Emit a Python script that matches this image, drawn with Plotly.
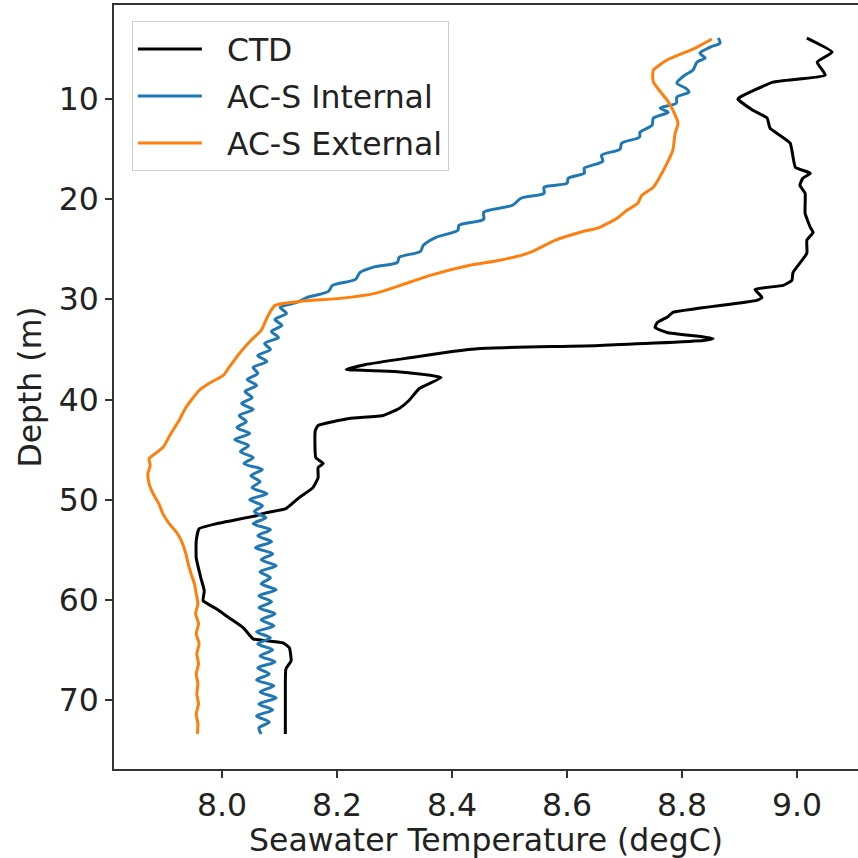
import plotly.graph_objects as go

# ---- CTD (black) ----
ctd_depth = [3.9, 5.3, 6.3, 7.6, 8.3, 9.8, 10.0, 11.1, 11.9, 12.9, 14.4, 16.8, 17.4, 17.9, 18.6,
             19.4, 21.4, 22.8, 23.3, 24.1, 25.4, 27.3, 28.1, 28.6, 29.0, 29.8, 30.1, 31.3, 31.7,
             32.3, 32.8, 33.3, 33.9, 34.1, 34.6, 34.9, 35.2, 35.8, 36.5, 37.0, 37.2, 37.8, 38.9,
             40.1, 40.9, 41.6, 41.9, 42.6, 43.1, 45.8, 46.4, 46.8, 47.8, 48.8, 49.8, 50.9, 51.3,
             51.6, 52.4, 52.9, 54.1, 55.8, 57.8, 59.1, 60.1, 60.9, 61.8, 62.8, 63.9, 64.3, 64.8,
             66.1, 66.9, 68.1, 73.4]
ctd_temp = [9.017, 9.061, 9.035, 9.049, 8.958, 8.901, 8.897, 8.923, 8.948, 8.953, 8.988, 8.997,
            9.023, 9.010, 9.005, 9.014, 9.014, 9.023, 9.028, 9.017, 9.017, 8.993, 8.991, 8.976,
            8.927, 8.939, 8.930, 8.784, 8.776, 8.757, 8.753, 8.774, 8.854, 8.837, 8.657, 8.449,
            8.400, 8.330, 8.250, 8.216, 8.300, 8.381, 8.343, 8.325, 8.308, 8.280, 8.221, 8.167,
            8.162, 8.163, 8.176, 8.167, 8.167, 8.158, 8.134, 8.111, 8.077, 8.059, 7.990, 7.960,
            7.955, 7.955, 7.963, 7.969, 7.967, 7.990, 8.012, 8.037, 8.054, 8.106, 8.117, 8.120,
            8.111, 8.110, 8.110]

# ---- AC-S Internal (blue) ----
int_depth = [3.9, 4.4, 4.8, 5.4, 5.9, 6.3, 7.1, 7.6, 8.4, 8.9, 9.3, 9.8, 10.4, 10.9, 11.3, 11.9,
             12.6, 13.3, 13.8, 14.4, 15.0, 15.6, 16.2, 16.9, 17.4, 17.9, 18.4, 18.8, 19.4, 19.9,
             20.6, 21.3, 22.0, 22.6, 23.1, 23.8, 24.6, 25.2, 25.8, 26.3, 26.8, 27.3, 28.0, 28.6,
             29.2, 29.8, 30.3,
             30.8, 31.4, 32.0, 32.6, 33.2, 33.8, 34.4, 35.0, 35.6, 36.2, 36.8, 37.4, 38.0, 38.6,
             39.2, 39.8, 40.4, 41.0, 41.6, 42.2, 42.8, 43.4, 44.0, 44.6, 45.2, 45.8, 46.4, 47.0,
             47.6, 48.2, 48.8, 49.4, 50.0, 50.6, 51.2, 51.8, 52.4, 53.0, 53.6, 54.2, 54.8, 55.4,
             56.0, 56.6, 57.2, 57.8, 58.4, 59.0, 59.6, 60.2, 60.8, 61.4, 62.0, 62.6, 63.2, 63.8,
             64.4, 65.0, 65.6, 66.2, 66.8, 67.4, 68.0, 68.6, 69.2, 69.8, 70.4, 71.0, 71.6, 72.2,
             72.8, 73.4]
int_temp = [8.863, 8.866, 8.849, 8.831, 8.840, 8.826, 8.819, 8.805, 8.791, 8.806, 8.812, 8.791,
            8.790, 8.762, 8.776, 8.750, 8.748, 8.727, 8.726, 8.695, 8.692, 8.660, 8.662, 8.630,
            8.630, 8.602, 8.600, 8.560, 8.560, 8.520, 8.505, 8.455, 8.455, 8.412, 8.410, 8.372,
            8.350, 8.345, 8.308, 8.305, 8.262, 8.240, 8.232, 8.192, 8.185, 8.148, 8.130,
            8.101, 8.112, 8.092, 8.104, 8.086, 8.098, 8.074, 8.084, 8.062, 8.078, 8.054, 8.062,
            8.044, 8.060, 8.040, 8.052, 8.034, 8.054, 8.030, 8.042, 8.026, 8.048, 8.022, 8.046,
            8.032, 8.054, 8.038, 8.070, 8.050, 8.066, 8.052, 8.078, 8.048, 8.070, 8.056, 8.076,
            8.054, 8.084, 8.062, 8.086, 8.058, 8.088, 8.068, 8.094, 8.066, 8.084, 8.068, 8.094,
            8.064, 8.086, 8.064, 8.092, 8.068, 8.090, 8.060, 8.084, 8.062, 8.088, 8.066, 8.092,
            8.062, 8.082, 8.060, 8.090, 8.066, 8.094, 8.064, 8.088, 8.060, 8.082, 8.064, 8.068]

# ---- AC-S External (orange) ----
ext_depth = [4.0, 4.9, 6.1, 7.1, 8.3, 10.1, 11.1, 12.4, 13.4, 15.1, 16.4, 18.1, 18.8, 19.6, 20.4,
             21.1, 21.9, 22.8, 23.3, 24.1, 25.3, 26.1, 26.6, 27.6, 28.6, 29.4, 29.9, 30.2, 30.6,
             31.6, 33.1, 34.1, 35.4, 36.8, 37.6, 38.4, 39.1, 40.8, 42.1, 43.4, 44.8, 45.9, 46.6,
             47.4, 48.4, 49.4, 50.4, 51.4, 52.4, 53.2, 54.1, 55.4, 56.4, 57.4, 58.4, 59.4, 60.4,
             61.4, 62.4, 63.4, 64.4, 65.4, 66.4, 67.4, 68.4, 69.4, 70.4, 71.4, 72.4, 73.4]
ext_temp = [8.852, 8.823, 8.774, 8.750, 8.750, 8.774, 8.784, 8.793, 8.788, 8.784, 8.774, 8.758,
            8.750, 8.730, 8.723, 8.704, 8.687, 8.657, 8.623, 8.579, 8.536, 8.483, 8.431, 8.362,
            8.310, 8.266, 8.205, 8.136, 8.092, 8.080, 8.068, 8.050, 8.030, 8.012, 8.002, 7.977,
            7.960, 7.937, 7.925, 7.911, 7.897, 7.873, 7.875, 7.871, 7.873, 7.880, 7.890, 7.897,
            7.908, 7.920, 7.929, 7.937, 7.941, 7.946, 7.952, 7.955, 7.958, 7.954, 7.959, 7.955,
            7.960, 7.956, 7.959, 7.955, 7.958, 7.956, 7.959, 7.955, 7.958, 7.957]

x_ticks = [8.0, 8.2, 8.4, 8.6, 8.8, 9.0]
y_ticks = [10, 20, 30, 40, 50, 60, 70]

FONT = "DejaVu Sans"
FS = 31.5
NB = "\u00a0\u00a0"

fig = go.Figure()
fig.add_trace(go.Scatter(x=ctd_temp, y=ctd_depth, mode="lines", name=NB + "CTD", legendgroup="a",
                         line=dict(color="black", width=3, shape="spline", smoothing=0.4)))
fig.add_trace(go.Scatter(x=int_temp, y=int_depth, mode="lines", name=NB + "AC-S Internal", legendgroup="b",
                         line=dict(color="#1f77b4", width=3, shape="spline", smoothing=0.8)))
fig.add_trace(go.Scatter(x=ext_temp, y=ext_depth, mode="lines", name=NB + "AC-S External", legendgroup="c",
                         line=dict(color="#ff7f0e", width=3, shape="spline", smoothing=0.5)))

axis_common = dict(showgrid=False, zeroline=False, showline=True, linecolor="#333333",
                   linewidth=1.6, ticks="outside", ticklen=7, tickwidth=1.6, tickcolor="#333333",
                   tickfont=dict(family=FONT, size=FS, color="#222222"))

fig.update_xaxes(range=[7.812, 9.106], tickvals=x_ticks, ticktext=[f"{v:.1f}" for v in x_ticks],
                 mirror=True,
                 title=dict(text="Seawater Temperature (degC)", font=dict(family=FONT, size=FS, color="#222222"), standoff=5),
                 **axis_common)
fig.update_yaxes(range=[76.9, 0.6], tickvals=y_ticks, mirror=False,
                 title=dict(text="Depth (m)", font=dict(family=FONT, size=FS, color="#222222"), standoff=8),
                 **axis_common)

fig.update_layout(
    width=858, height=858,
    margin=dict(l=114, r=0, t=5, b=89),
    plot_bgcolor="white", paper_bgcolor="white",
    showlegend=True,
    legend=dict(x=0.024, y=0.979, xanchor="left", yanchor="top",
                bgcolor="rgba(255,255,255,0.8)", bordercolor="#cccccc", borderwidth=1,
                font=dict(family=FONT, size=FS, color="#222222"), itemwidth=64,
                tracegroupgap=3),
)

fig.write_html("out.html")
